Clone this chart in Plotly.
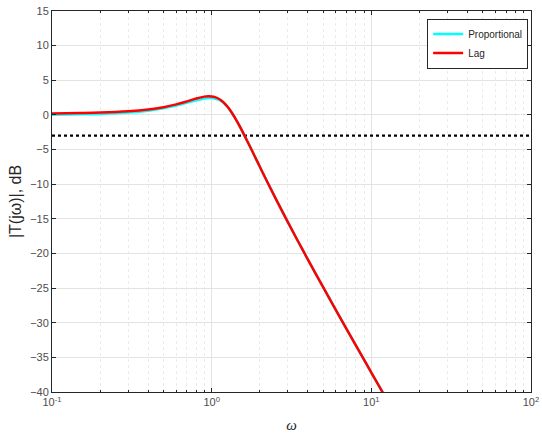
import plotly.graph_objects as go

# Frequencies (rad/s)
omega = [0.1, 0.15, 0.2, 0.3, 0.4, 0.5, 0.6, 0.7, 0.8, 0.9, 0.95, 1.0, 1.05, 1.1, 1.15,
         1.2, 1.25, 1.3, 1.35, 1.4, 1.45, 1.5, 1.6, 1.7, 1.8, 2.0, 2.2, 2.5, 3.0, 3.5,
         4.0, 5.0, 6.0, 7.0, 8.0, 10.0, 12.5]

# |T(jw)| in dB, proportional controller
mag_prop = [0.02, 0.08, 0.13, 0.33, 0.60, 0.95, 1.35, 1.76, 2.12, 2.38, 2.44, 2.44, 2.36, 2.20, 1.98,
            1.62, 1.22, 0.70, 0.16, -0.43, -1.04, -1.66, -2.91, -4.13, -5.29, -7.45, -9.39, -11.94, -15.48, -18.38,
            -20.85, -24.91, -28.17, -30.91, -33.27, -37.19, -41.10]

# |T(jw)| in dB, lag compensator
mag_lag = [0.22, 0.27, 0.33, 0.52, 0.78, 1.12, 1.52, 1.95, 2.36, 2.64, 2.69, 2.67, 2.57, 2.37, 2.08,
           1.70, 1.25, 0.73, 0.17, -0.43, -1.04, -1.66, -2.91, -4.13, -5.29, -7.45, -9.39, -11.94, -15.48, -18.38,
           -20.85, -24.91, -28.17, -30.91, -33.27, -37.19, -41.10]

# -3 dB reference level
ref_x = [0.1, 100]
ref_level = [-3, -3]

x_tickvals = [0.1, 1, 10, 100]
x_ticktext = ["10<sup>-1</sup>", "10<sup>0</sup>", "10<sup>1</sup>", "10<sup>2</sup>"]

fig = go.Figure()
fig.add_trace(go.Scatter(x=ref_x, y=ref_level, mode="lines", showlegend=False,
                         line=dict(color="black", width=2.2, dash="dot")))
fig.add_trace(go.Scatter(x=omega, y=mag_prop, mode="lines", name="Proportional",
                         line=dict(color="#00FFFF", width=2.5, shape="spline")))
fig.add_trace(go.Scatter(x=omega, y=mag_lag, mode="lines", name="Lag",
                         line=dict(color="#FF0000", width=2.5, shape="spline")))

axis_common = dict(
    showline=True, linecolor="#262626", linewidth=1, mirror="ticks",
    ticks="inside", ticklen=4, tickcolor="#262626",
    showgrid=True, gridcolor="#e3e3e3", gridwidth=1,
    zeroline=False, automargin=False,
    tickfont=dict(family="Liberation Sans, Arial, sans-serif", size=11, color="#4d4d4d"),
)

fig.update_xaxes(
    type="log", range=[-1, 2],
    tickmode="array", tickvals=x_tickvals, ticktext=x_ticktext,
    minor=dict(dtick="D1", ticks="inside", ticklen=2, tickcolor="#262626", showgrid=True,
               gridcolor="#ebebeb", griddash="dot"),
    title=dict(text="<i>ω</i>", font=dict(family="Liberation Serif, serif", size=15, color="#262626"),
               standoff=12),
    **axis_common,
)
fig.update_yaxes(
    range=[-40, 15], dtick=5,
    title=dict(text="|T(jω)|, dB", font=dict(family="Liberation Sans, Arial, sans-serif", size=16, color="#262626"),
               standoff=4),
    **axis_common,
)

fig.update_layout(
    width=542, height=434,
    margin=dict(l=52, r=11, t=11, b=42),
    plot_bgcolor="white", paper_bgcolor="white",
    legend=dict(x=0.994, y=0.98, xanchor="right", yanchor="top",
                bgcolor="white", bordercolor="#262626", borderwidth=1,
                font=dict(family="Liberation Sans, Arial, sans-serif", size=10, color="#262626"),
                tracegroupgap=0, itemwidth=30),
)

fig.write_html("out.html")
